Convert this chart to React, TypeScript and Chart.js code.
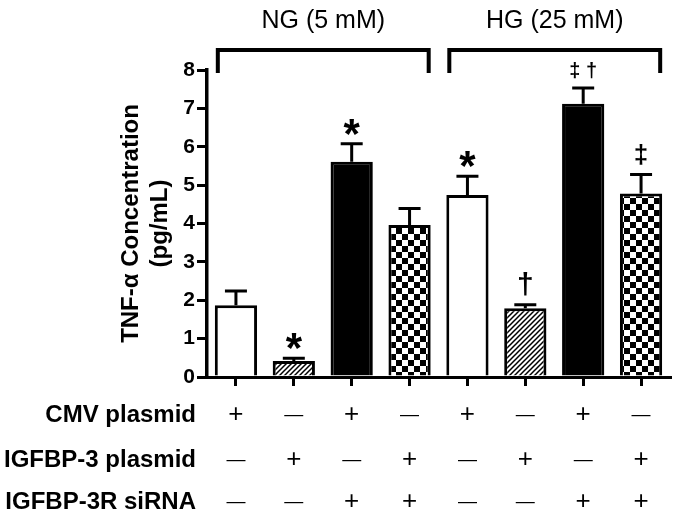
import React, { useEffect, useRef } from "react";
import { Chart, registerables } from "chart.js";

Chart.register(...registerables);

// ---------- data ----------
const groupIds = ["NG-1", "NG-2", "NG-3", "NG-4", "HG-1", "HG-2", "HG-3", "HG-4"];
const tnfMeans = [1.87, 0.42, 5.61, 3.96, 4.74, 1.79, 7.12, 4.78];
const tnfErrors = [0.37, 0.07, 0.47, 0.43, 0.49, 0.09, 0.41, 0.5];
const significance = ["", "*", "*", "", "*", "†", "‡ †", "‡"];
const yTickValues = [0, 1, 2, 3, 4, 5, 6, 7, 8];
const yTitleLines = ["TNF-α Concentration", "(pg/mL)"];
const conditionLabels = ["NG (5 mM)", "HG (25 mM)"];
const conditionFirstBar = [0, 4];
const conditionLastBar = [3, 7];
const rowLabels = ["CMV plasmid", "IGFBP-3 plasmid", "IGFBP-3R siRNA"];
const cmvPlasmid = ["+", "—", "+", "—", "+", "—", "+", "—"];
const igfbp3Plasmid = ["—", "+", "—", "+", "—", "+", "—", "+"];
const igfbp3rSiRNA = ["—", "—", "+", "+", "—", "—", "+", "+"];
const fillKinds = ["open", "hatch", "solid", "checker", "open", "hatch", "solid", "checker"];

// ---------- styles ----------
const FONT = "Arial, 'Liberation Sans', Helvetica, sans-serif";
const markFontPx: Record<string, number> = { "*": 42, "†": 30, "‡ †": 20, "‡": 26 };

function makeHatch(ctx: CanvasRenderingContext2D) {
  const s = 5;
  const c = document.createElement("canvas");
  c.width = s;
  c.height = s;
  const g = c.getContext("2d")!;
  g.fillStyle = "#fff";
  g.fillRect(0, 0, s, s);
  g.strokeStyle = "#000";
  g.lineWidth = 1.5;
  g.beginPath();
  g.moveTo(-1, s + 1);
  g.lineTo(s + 1, -1);
  g.moveTo(-1, 1);
  g.lineTo(1, -1);
  g.moveTo(s - 1, s + 1);
  g.lineTo(s + 1, s - 1);
  g.stroke();
  return ctx.createPattern(c, "repeat")!;
}

function makeChecker(ctx: CanvasRenderingContext2D) {
  const q = 6;
  const c = document.createElement("canvas");
  c.width = q * 2;
  c.height = q * 2;
  const g = c.getContext("2d")!;
  g.fillStyle = "#fff";
  g.fillRect(0, 0, q * 2, q * 2);
  g.fillStyle = "#000";
  g.fillRect(0, 0, q, q);
  g.fillRect(q, q, q, q);
  return ctx.createPattern(c, "repeat")!;
}

const overlayPlugin = {
  id: "overlay",
  afterDatasetsDraw(chart: any) {
    const ctx: CanvasRenderingContext2D = chart.ctx;
    const meta = chart.getDatasetMeta(0);
    const y = chart.scales.y;
    const area = chart.chartArea;
    ctx.save();
    ctx.strokeStyle = "#000";
    ctx.fillStyle = "#000";
    ctx.lineCap = "butt";

    // error bars + significance marks
    meta.data.forEach((bar: any, i: number) => {
      const top = y.getPixelForValue(tnfMeans[i]);
      const cap = y.getPixelForValue(tnfMeans[i] + tnfErrors[i]);
      ctx.lineWidth = 3;
      ctx.beginPath();
      ctx.moveTo(bar.x, top);
      ctx.lineTo(bar.x, cap);
      ctx.moveTo(bar.x - 11, cap);
      ctx.lineTo(bar.x + 11, cap);
      ctx.stroke();
      const mark = significance[i];
      if (mark) {
        const px = markFontPx[mark] || 26;
        ctx.font = `bold ${px}px ${FONT}`;
        ctx.textAlign = "center";
        ctx.textBaseline = "alphabetic";
        const base = mark === "*" ? cap + 4 : cap - 11;
        ctx.fillText(mark, bar.x, base);
      }
    });

    // brackets and condition titles
    conditionLabels.forEach((label, k) => {
      const b0 = meta.data[conditionFirstBar[k]];
      const b1 = meta.data[conditionLastBar[k]];
      const l = b0.x - b0.width / 2 + 3;
      const r = b1.x + b1.width / 2 - 2;
      const topY = area.top - 20;
      const legY = area.top + 3;
      ctx.lineWidth = 4;
      ctx.lineJoin = "miter";
      ctx.beginPath();
      ctx.moveTo(l, legY);
      ctx.lineTo(l, topY);
      ctx.lineTo(r, topY);
      ctx.lineTo(r, legY);
      ctx.stroke();
      ctx.font = `25px ${FONT}`;
      ctx.textAlign = "center";
      ctx.textBaseline = "middle";
      ctx.fillText(label, (l + r) / 2, area.top - 49);
    });

    // treatment table
    const rows = [cmvPlasmid, igfbp3Plasmid, igfbp3rSiRNA];
    const rowOffsets = [38, 83, 125];
    rows.forEach((row, r) => {
      const ry = area.bottom + rowOffsets[r];
      ctx.font = `bold 24px ${FONT}`;
      ctx.textAlign = "right";
      ctx.textBaseline = "middle";
      ctx.fillText(rowLabels[r], area.left - 11, ry);
      row.forEach((sign, i) => {
        const bx = meta.data[i].x;
        ctx.textAlign = "center";
        if (sign === "+") {
          ctx.font = `26px ${FONT}`;
          ctx.fillText(sign, bx, ry);
        } else {
          ctx.font = `19px ${FONT}`;
          ctx.fillText(sign, bx, ry);
        }
      });
    });
    ctx.restore();
  },
};

export default function App() {
  const ref = useRef<HTMLCanvasElement | null>(null);

  useEffect(() => {
    const canvas = ref.current!;
    const ctx = canvas.getContext("2d")!;
    const hatch = makeHatch(ctx);
    const checker = makeChecker(ctx);
    const fills = fillKinds.map((k) =>
      k === "open" ? "#ffffff" : k === "solid" ? "#000000" : k === "hatch" ? hatch : checker
    );

    const chart = new Chart(ctx, {
      type: "bar",
      data: {
        labels: groupIds,
        datasets: [
          {
            data: tnfMeans,
            backgroundColor: fills as any,
            borderColor: "#000",
            borderWidth: 3,
            borderSkipped: "start",
            barPercentage: 0.73,
            categoryPercentage: 1,
          },
        ],
      },
      options: {
        responsive: false,
        animation: false,
        devicePixelRatio: 1,
        layout: { padding: { left: 0, right: 3, top: 70, bottom: 125 } },
        plugins: { legend: { display: false }, tooltip: { enabled: false } },
        scales: {
          x: {
            type: "category",
            offset: true,
            grid: {
              display: true,
              drawOnChartArea: false,
              drawTicks: true,
              offset: false,
              tickLength: 9,
              lineWidth: 3,
              color: "#000",
            },
            border: { display: true, width: 3, color: "#000" },
            ticks: { display: false },
            afterFit: (s: any) => {
              s.height = 10;
            },
          },
          y: {
            min: 0,
            max: 8,
            afterBuildTicks: (s: any) => {
              s.ticks = yTickValues.map((v) => ({ value: v }));
            },
            grid: {
              display: true,
              drawOnChartArea: false,
              drawTicks: true,
              tickLength: 10,
              lineWidth: 3,
              color: "#000",
            },
            border: { display: true, width: 3.5, color: "#000" },
            ticks: {
              color: "#000",
              padding: 2,
              font: { family: FONT, size: 21, weight: "bold" },
            },
            title: {
              display: true,
              text: yTitleLines,
              color: "#000",
              font: { family: FONT, size: 24, weight: "bold", lineHeight: 1.2 },
              padding: { top: 117, bottom: 0 },
            },
            afterFit: (s: any) => {
              s.width = 207;
            },
          },
        },
      },
      plugins: [overlayPlugin],
    });
    return () => chart.destroy();
  }, []);

  return (
    <div style={{ position: "fixed", left: 0, top: 0, width: 673, height: 512, background: "#fff" }}>
      <canvas ref={ref} width={673} height={512} style={{ display: "block" }} />
    </div>
  );
}
